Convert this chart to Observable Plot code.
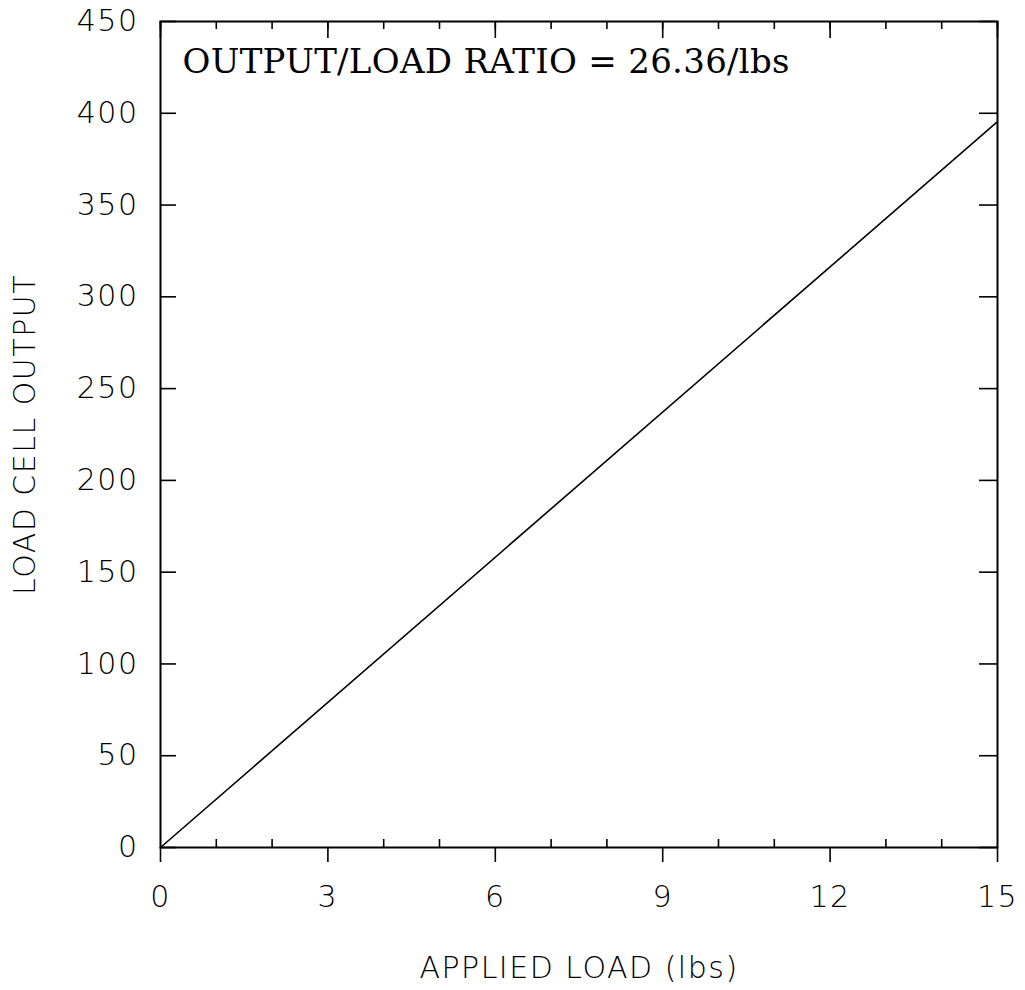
<!DOCTYPE html>
<html>
<head>
<meta charset="utf-8">
<script src="https://cdn.jsdelivr.net/npm/d3@7"></script>
<script src="https://cdn.jsdelivr.net/npm/@observablehq/plot@0.6"></script>
<style>
  html, body { margin: 0; padding: 0; background: #fff; }
  #chart svg { display: block; }
  #chart text { letter-spacing: 1.5px; }
  #chart text.ratio { letter-spacing: 0.3px; }
</style>
</head>
<body>
<div id="chart"></div>
<script>
// Load cell calibration: applied load vs. cell output
const loads = [0, 15];            // lbs
const outputs = [0, 395.4];       // cell output at each load
const ratio = 26.36;              // output per lb

const xMajor = [0, 3, 6, 9, 12, 15];
const xMinor = [1, 2, 4, 5, 7, 8, 10, 11, 13, 14];
const xAll = d3.range(0, 16);
const yTicks = [0, 50, 100, 150, 200, 250, 300, 350, 400, 450];

const W = 1025, H = 990;
const mL = 160, mR = 28, mT = 21, mB = 143;
const pw = W - mL - mR, ph = H - mT - mB;

const data = loads.map((l, i) => ({load: l, output: outputs[i]}));

const chart = Plot.plot({
  width: W,
  height: H,
  marginLeft: mL,
  marginRight: mR,
  marginTop: mT,
  marginBottom: mB,
  style: {fontFamily: "'DejaVu Sans', sans-serif", fontSize: "30px", fontWeight: 200, color: "#000", background: "#fff"},
  x: {domain: [0, 15]},
  y: {domain: [0, 450]},
  marks: [
    // bottom axis: major ticks point outward, labels below
    Plot.axisX({ticks: xMajor, tickSize: 15, tickPadding: 23, strokeWidth: 1.6,
      label: "APPLIED LOAD (lbs)", labelAnchor: "center", labelOffset: 130, labelArrow: "none"}),
    // left axis labels only; ticks drawn inward below
    Plot.axisY({ticks: yTicks, tickSize: 0, tickPadding: 22,
      label: "LOAD CELL OUTPUT", labelAnchor: "center", labelOffset: 147, labelArrow: "none"}),
    // inward ticks
    Plot.tickX(xMinor, {x: d => d, insetTop: ph - 8, strokeWidth: 1.6}),
    Plot.tickX(xAll, {x: d => d, insetBottom: ph - 8, strokeWidth: 1.6}),
    Plot.tickX(xMajor, {x: d => d, insetBottom: ph - 17, strokeWidth: 1.6}),
    Plot.tickY(yTicks, {y: d => d, insetRight: pw - 16, strokeWidth: 1.6}),
    Plot.tickY(yTicks, {y: d => d, insetLeft: pw - 18, strokeWidth: 1.6}),
    Plot.frame({stroke: "#000", strokeWidth: 2}),
    Plot.line(data, {x: "load", y: "output", stroke: "#000", strokeWidth: 1.6}),
    Plot.text([`OUTPUT/LOAD RATIO = ${ratio.toFixed(2)}/lbs`], {
      frameAnchor: "top-left", textAnchor: "start", lineAnchor: "top",
      dx: 22, dy: 27, fontFamily: "'DejaVu Serif', serif", fontSize: 34, fontWeight: 400,
      className: "ratio"
    })
  ]
});
// the ratio text carries its own class on the group; pass it to the text node
chart.querySelectorAll("g.ratio text").forEach(t => t.classList.add("ratio"));
document.getElementById("chart").appendChild(chart);
</script>
</body>
</html>
